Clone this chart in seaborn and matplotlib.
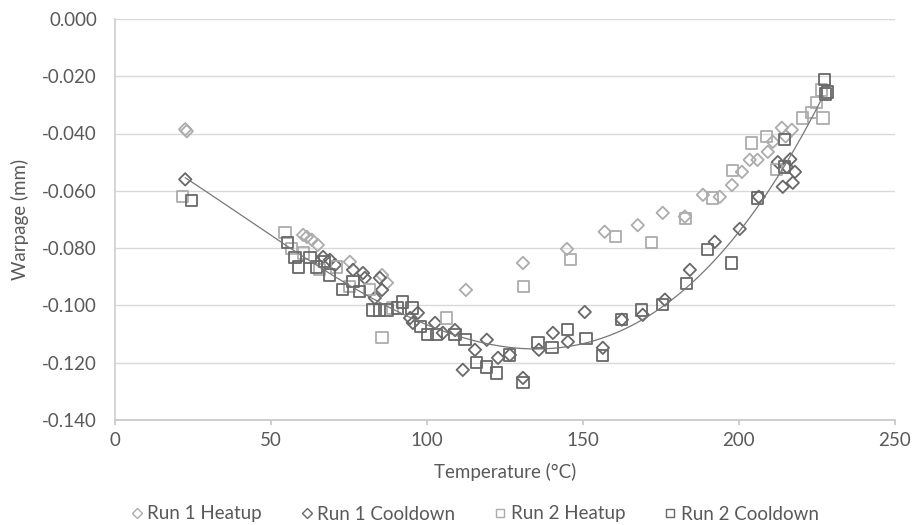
import numpy as np
import pandas as pd
import matplotlib
matplotlib.use("Agg")
import matplotlib.pyplot as plt
from matplotlib.lines import Line2D
import seaborn as sns

series_names = ["Run 1 Heatup", "Run 1 Cooldown", "Run 2 Heatup", "Run 2 Cooldown"]

r1h_t = [22.5, 23.0, 60.3, 61.5, 63.1, 65.0, 75.3, 85.6, 87.2, 112.5, 130.8, 144.9, 157.0,
         167.6, 175.6, 182.7, 188.5, 193.9, 197.8, 201.0, 203.5, 206.0, 209.3, 210.9, 213.8,
         215.0, 217.0]
r1h_w = [-0.0385, -0.0392, -0.0754, -0.0761, -0.0771, -0.0789, -0.0848, -0.0894, -0.0921,
         -0.0946, -0.0852, -0.0803, -0.0743, -0.0720, -0.0677, -0.0690, -0.0614, -0.0621,
         -0.0580, -0.0534, -0.0492, -0.0492, -0.0464, -0.0429, -0.0380, -0.0410, -0.0387]

r1c_t = [22.5, 66.7, 68.9, 70.5, 76.3, 79.5, 80.1, 84.9, 85.6, 83.3, 94.6, 95.5, 97.1, 102.6,
         105.1, 109.0, 111.5, 115.4, 119.2, 122.8, 126.6, 130.8, 135.9, 140.4, 145.2, 150.6,
         156.4, 162.5, 169.2, 176.3, 184.3, 192.3, 200.3, 206.4, 212.5, 214.1, 215.4, 216.5,
         217.3, 218.0]
r1c_w = [-0.0560, -0.0831, -0.0841, -0.0859, -0.0876, -0.0887, -0.0904, -0.0904, -0.0946,
         -0.0974, -0.1044, -0.1061, -0.1026, -0.1061, -0.1096, -0.1086, -0.1225, -0.1155,
         -0.1120, -0.1183, -0.1173, -0.1253, -0.1155, -0.1096, -0.1127, -0.1023, -0.1148,
         -0.1050, -0.1033, -0.0980, -0.0876, -0.0778, -0.0733, -0.0621, -0.0500, -0.0586,
         -0.0517, -0.0490, -0.0572, -0.0534]

r2h_t = [21.5, 54.5, 56.7, 60.3, 65.7, 71.0, 75.3, 81.7, 85.6, 89.1, 106.4, 131.1, 146.0,
         160.6, 172.0, 183.0, 191.7, 198.0, 204.2, 209.0, 212.0, 220.5, 223.4, 227.0, 225.0,
         226.6]
r2h_w = [-0.0620, -0.0747, -0.0800, -0.0817, -0.0876, -0.0866, -0.0935, -0.0946, -0.1113,
         -0.1009, -0.1044, -0.0935, -0.0840, -0.0760, -0.0780, -0.0698, -0.0625, -0.0530,
         -0.0433, -0.0412, -0.0527, -0.0346, -0.0328, -0.0346, -0.0293, -0.0248]

r2c_t = [24.4, 55.4, 57.7, 58.7, 62.5, 64.7, 67.3, 68.9, 73.0, 76.3, 78.5, 82.7, 84.9, 87.2,
         90.7, 92.3, 95.2, 97.8, 100.3, 103.2, 109.0, 112.2, 116.0, 119.2, 122.4, 126.6,
         130.8, 135.6, 140.1, 145.2, 151.0, 156.4, 162.5, 168.9, 175.6, 183.3, 190.0, 197.8,
         206.0, 214.7, 214.7, 227.6, 228.5, 227.8]
r2c_w = [-0.0635, -0.0780, -0.0834, -0.0866, -0.0834, -0.0866, -0.0848, -0.0894, -0.0946,
         -0.0918, -0.0953, -0.1016, -0.1016, -0.1016, -0.1009, -0.0988, -0.1009, -0.1075,
         -0.1103, -0.1103, -0.1103, -0.1120, -0.1200, -0.1215, -0.1236, -0.1173, -0.1270,
         -0.1131, -0.1148, -0.1085, -0.1117, -0.1176, -0.1050, -0.1016, -0.0998, -0.0925,
         -0.0806, -0.0852, -0.0625, -0.0422, -0.0517, -0.0213, -0.0255, -0.0262]

x_ticks = [0, 50, 100, 150, 200, 250]
y_ticks = [0.000, -0.020, -0.040, -0.060, -0.080, -0.100, -0.120, -0.140]

series_t = [r1h_t, r1c_t, r2h_t, r2c_t]
series_w = [r1h_w, r1c_w, r2h_w, r2c_w]
colors = ["#acacac", "#686868", "#acacac", "#686868"]
markers = ["D", "D", "s", "s"]
sizes = [40, 40, 64, 64]

df = pd.concat([pd.DataFrame({"T": t, "W": w, "series": n})
                for t, w, n in zip(series_t, series_w, series_names)], ignore_index=True)

sns.set_theme(style="white")
plt.rcParams["font.family"] = ["Lato", "DejaVu Sans"]

TXT = "#595959"
FS = 13.5

fig = plt.figure(figsize=(9.13, 5.25), dpi=100)
ax = fig.add_axes([0.126, 0.2, 0.854, 0.764])

for name, c, m, s in zip(series_names, colors, markers, sizes):
    sub = df[df["series"] == name]
    sns.scatterplot(data=sub, x="T", y="W", ax=ax, marker=m, s=s, legend=False, zorder=3)
    coll = ax.collections[-1]
    coll.set_facecolor("none")
    coll.set_edgecolor(c)
    coll.set_linewidth(1.3)

# polynomial trendline fitted to cooldown data
cool = df[df["series"].str.contains("Cooldown")]
coef = np.polyfit(cool["T"], cool["W"], 3)
xs = np.linspace(22.5, 227, 300)
sns.lineplot(x=xs, y=np.polyval(coef, xs), ax=ax, color="#777777", linewidth=0.9, zorder=4)

ax.set_xlim(0, 250)
ax.set_ylim(-0.140, 0.000)
ax.set_xticks(x_ticks)
ax.set_yticks(y_ticks)
ax.set_xticklabels([str(v) for v in x_ticks])
ax.set_yticklabels([f"{v:.3f}" for v in y_ticks])
ax.grid(axis="y", color="#d9d9d9", linewidth=1.0)
ax.grid(axis="x", visible=False)
for sp in ["top", "right"]:
    ax.spines[sp].set_visible(False)
ax.spines["left"].set_color("#d0d0d0")
ax.spines["bottom"].set_color("#c8c8c8")
ax.tick_params(axis="x", bottom=True, length=3.6, color="#c8c8c8", labelsize=FS,
               labelcolor=TXT, pad=5)
ax.tick_params(axis="y", left=False, labelsize=FS, labelcolor=TXT, pad=7)
ax.set_xlabel("Temperature (°C)", fontsize=FS, color=TXT)
ax.set_ylabel("Warpage (mm)", fontsize=FS, color=TXT)
ax.xaxis.set_label_coords(0.5, -0.13)
ax.xaxis.label.set_va("center")
ax.yaxis.set_label_coords(-0.122, 0.5)
ax.yaxis.label.set_va("center")

handles = [Line2D([], [], linestyle="none", marker=m, markersize=ms, markerfacecolor="none",
                  markeredgecolor=c, markeredgewidth=1.0)
           for m, c, ms in zip(markers, colors, [5, 5, 6, 6])]
leg = fig.legend(handles, series_names, loc="center", bbox_to_anchor=(474 / 913, 1 - 514 / 525),
                 ncol=4, frameon=False, fontsize=FS, labelcolor=TXT, handletextpad=0.15,
                 columnspacing=2.0, handlelength=0.8, borderpad=0)

fig.savefig("out.png", dpi=100)
